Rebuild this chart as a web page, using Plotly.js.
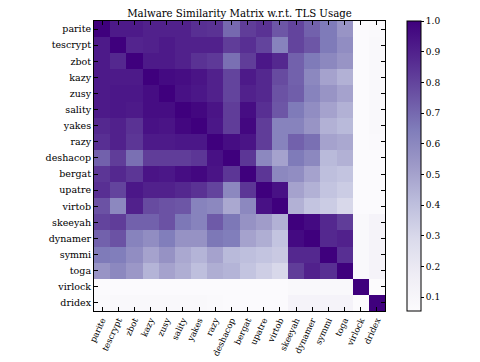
<!DOCTYPE html>
<html>
<head>
<meta charset="utf-8">
<script src="https://cdn.plot.ly/plotly-3.0.1.min.js"></script>
<style>
  body { margin: 0; background: #fff; }
  #heat { width: 480px; height: 362px; }
</style>
</head>
<body>
<div id="heat"></div>
<script>
var families = ["parite", "tescrypt", "zbot", "kazy", "zusy", "sality", "yakes", "razy", "deshacop",
  "bergat", "upatre", "virtob", "skeeyah", "dynamer", "symmi", "toga", "virlock", "dridex"];

// similarity values, row by row
var rowParite   = [1.00, 0.92, 0.92, 0.90, 0.90, 0.90, 0.86, 0.85, 0.70, 0.82, 0.85, 0.75, 0.80, 0.72, 0.65, 0.55, 0.06, 0.07];
var rowTescrypt = [0.92, 1.00, 0.89, 0.90, 0.92, 0.90, 0.90, 0.90, 0.82, 0.86, 0.80, 0.62, 0.80, 0.75, 0.65, 0.58, 0.06, 0.08];
var rowZbot     = [0.92, 0.88, 1.00, 0.92, 0.92, 0.90, 0.85, 0.83, 0.68, 0.82, 0.93, 0.88, 0.72, 0.65, 0.60, 0.55, 0.06, 0.08];
var rowKazy     = [0.92, 0.92, 0.92, 1.00, 0.97, 0.96, 0.94, 0.90, 0.80, 0.92, 0.88, 0.78, 0.72, 0.60, 0.50, 0.45, 0.06, 0.08];
var rowZusy     = [0.92, 0.93, 0.93, 0.96, 1.00, 0.95, 0.93, 0.90, 0.80, 0.90, 0.88, 0.76, 0.73, 0.62, 0.55, 0.50, 0.06, 0.08];
var rowSality   = [0.92, 0.93, 0.92, 0.96, 0.96, 1.00, 0.98, 0.94, 0.82, 0.96, 0.86, 0.75, 0.65, 0.58, 0.50, 0.45, 0.06, 0.08];
var rowYakes    = [0.88, 0.90, 0.85, 0.95, 0.94, 0.98, 1.00, 0.93, 0.82, 0.98, 0.82, 0.62, 0.62, 0.55, 0.45, 0.42, 0.06, 0.08];
var rowRazy     = [0.86, 0.90, 0.84, 0.92, 0.92, 0.93, 0.93, 1.00, 0.96, 0.94, 0.82, 0.62, 0.72, 0.68, 0.50, 0.48, 0.06, 0.07];
var rowDeshacop = [0.72, 0.82, 0.68, 0.82, 0.82, 0.82, 0.84, 0.95, 1.00, 0.84, 0.60, 0.50, 0.65, 0.60, 0.42, 0.45, 0.06, 0.06];
var rowBergat   = [0.84, 0.88, 0.84, 0.94, 0.93, 0.96, 0.98, 0.94, 0.84, 1.00, 0.84, 0.60, 0.58, 0.50, 0.40, 0.38, 0.06, 0.06];
var rowUpatre   = [0.86, 0.80, 0.93, 0.90, 0.90, 0.88, 0.85, 0.80, 0.60, 0.84, 1.00, 0.95, 0.50, 0.45, 0.38, 0.35, 0.06, 0.06];
var rowVirtob   = [0.76, 0.60, 0.90, 0.78, 0.76, 0.75, 0.62, 0.60, 0.48, 0.60, 0.95, 1.00, 0.45, 0.38, 0.35, 0.30, 0.06, 0.06];
var rowSkeeyah  = [0.80, 0.82, 0.72, 0.72, 0.76, 0.66, 0.62, 0.74, 0.66, 0.56, 0.52, 0.45, 1.00, 0.97, 0.88, 0.82, 0.08, 0.12];
var rowDynamer  = [0.72, 0.76, 0.62, 0.58, 0.64, 0.56, 0.56, 0.66, 0.64, 0.50, 0.46, 0.38, 0.97, 1.00, 0.88, 0.90, 0.08, 0.12];
var rowSymmi    = [0.65, 0.64, 0.58, 0.50, 0.56, 0.48, 0.44, 0.50, 0.42, 0.40, 0.38, 0.36, 0.88, 0.88, 1.00, 0.86, 0.08, 0.12];
var rowToga     = [0.55, 0.60, 0.54, 0.44, 0.50, 0.46, 0.40, 0.46, 0.44, 0.38, 0.34, 0.30, 0.82, 0.90, 0.86, 1.00, 0.08, 0.12];
var rowVirlock  = [0.06, 0.06, 0.06, 0.06, 0.06, 0.06, 0.06, 0.06, 0.06, 0.06, 0.06, 0.06, 0.08, 0.08, 0.08, 0.08, 1.00, 0.05];
var rowDridex   = [0.07, 0.08, 0.08, 0.08, 0.08, 0.08, 0.08, 0.07, 0.06, 0.06, 0.06, 0.06, 0.12, 0.12, 0.12, 0.12, 0.05, 1.00];

var similarity = [rowParite, rowTescrypt, rowZbot, rowKazy, rowZusy, rowSality, rowYakes, rowRazy,
  rowDeshacop, rowBergat, rowUpatre, rowVirtob, rowSkeeyah, rowDynamer, rowSymmi, rowToga, rowVirlock, rowDridex];

var cbTicks = [0.1, 0.2, 0.3, 0.4, 0.5, 0.6, 0.7, 0.8, 0.9, 1.0];

// matplotlib "Purples"
var purples = [
  [0, "rgb(252,251,253)"], [0.125, "rgb(239,237,245)"], [0.25, "rgb(218,218,235)"],
  [0.375, "rgb(188,189,220)"], [0.5, "rgb(158,154,200)"], [0.625, "rgb(128,125,186)"],
  [0.75, "rgb(106,81,163)"], [0.875, "rgb(84,39,143)"], [1, "rgb(63,0,125)"]
];

var serif = "DejaVu Serif, serif";

var trace = {
  type: "heatmap",
  x: families,
  y: families,
  z: similarity,
  zmin: 0.055,
  zmax: 1.0,
  colorscale: purples,
  hoverinfo: "skip",
  colorbar: {
    x: 1.0756, xanchor: "left", xpad: 0,
    y: 0.5, yanchor: "middle", len: 1.0, ypad: 0,
    thickness: 14,
    outlinewidth: 1, outlinecolor: "#000",
    tickvals: cbTicks,
    ticktext: cbTicks.map(v => v.toFixed(1)),
    ticks: "outside", ticklen: 3, tickcolor: "#000",
    tickfont: { family: serif, size: 9, color: "#000" }
  }
};

var axisStyle = {
  type: "category",
  showgrid: false,
  zeroline: false,
  showline: true, linecolor: "#000", linewidth: 1, mirror: "allticks",
  ticks: "inside", ticklen: 4, tickcolor: "#000"
};

var layout = {
  width: 480, height: 362,
  margin: { l: 94, r: 95, t: 21, b: 51 },
  paper_bgcolor: "#fff", plot_bgcolor: "#fff",
  title: {
    text: "Malware Similarity Matrix w.r.t. TLS Usage",
    font: { family: serif, size: 10.2, color: "#000" },
    x: 0.5, xref: "paper", y: 1, yref: "paper", yanchor: "bottom", pad: { b: 4 }
  },
  xaxis: Object.assign({}, axisStyle, {
    tickangle: -65,
    tickfont: { family: serif, size: 8.5, color: "#000" }
  }),
  yaxis: Object.assign({}, axisStyle, {
    autorange: "reversed",
    tickfont: { family: serif, size: 9.5, color: "#000" }
  })
};

Plotly.newPlot("heat", [trace], layout, { displayModeBar: false, staticPlot: true });
</script>
</body>
</html>
